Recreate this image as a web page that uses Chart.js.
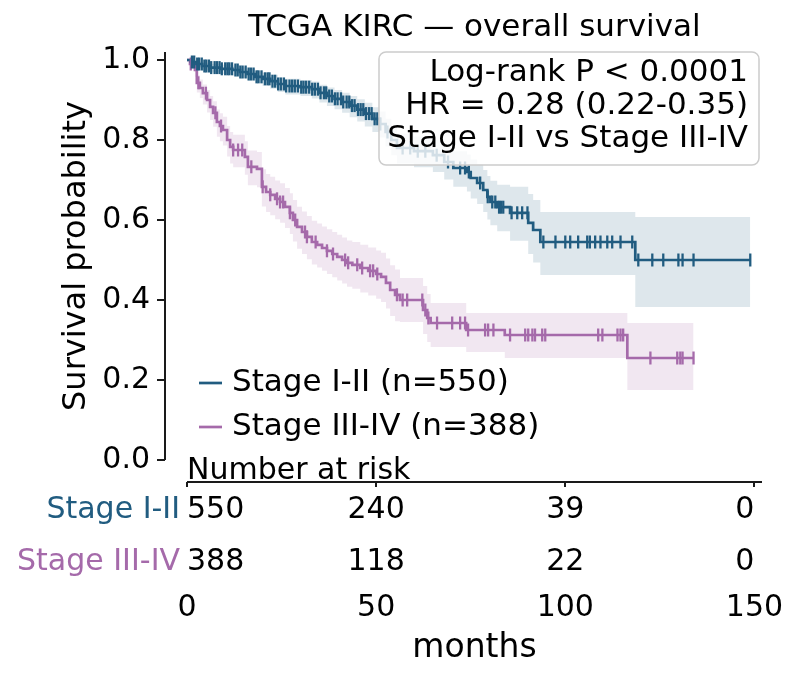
<!DOCTYPE html>
<html><head><meta charset="utf-8">
<script src="https://cdn.jsdelivr.net/npm/chart.js@4.4.1/dist/chart.umd.min.js"></script>
<style>html,body{margin:0;padding:0;background:#fff;}#wrap{width:799px;height:682px;}</style>
</head><body><div id="wrap"><canvas id="c" width="799" height="682"></canvas></div>
<script>
// ---------- data ----------
const titleText = 'TCGA KIRC \u2014 overall survival';
const xTickValues = [0, 50, 100, 150];
const yTickValues = [0, 0.2, 0.4, 0.6, 0.8, 1.0];
const groupNames = ['Stage I-II', 'Stage III-IV'];
const groupN = [550, 388];
const riskTimes = [0, 50, 100, 150];
const riskStage12 = [550, 240, 39, 0];
const riskStage34 = [388, 118, 22, 0];
const statLines = ['Log-rank P < 0.0001', 'HR = 0.28 (0.22-0.35)', 'Stage I-II vs Stage III-IV'];

const stage12Times = [0,1,2.5,4,6,9,12,14,16,18,20,22,24,26,30,33,35,37,39,41,43,45,47,49,51,52.5,54,55.5,60,65,68,70.4,74,75,76.7,78.3,79.4,80.2,82,85.4,90.2,91.5,93.4,118.5];
const stage12Surv  = [1,0.995,0.99,0.985,0.981,0.978,0.975,0.97,0.965,0.958,0.953,0.947,0.94,0.935,0.932,0.927,0.918,0.91,0.903,0.895,0.886,0.876,0.866,0.853,0.84,0.82,0.8,0.78,0.772,0.762,0.745,0.73,0.72,0.705,0.6925,0.675,0.658,0.645,0.632,0.618,0.593,0.575,0.545,0.5];
const stage12Lo    = [1,0.988,0.981,0.974,0.969,0.965,0.961,0.955,0.949,0.941,0.935,0.928,0.92,0.914,0.91,0.904,0.894,0.885,0.877,0.868,0.857,0.846,0.834,0.82,0.806,0.784,0.762,0.741,0.732,0.72,0.701,0.683,0.671,0.654,0.64,0.62,0.601,0.587,0.572,0.548,0.515,0.494,0.4625,0.3825];
const stage12Hi    = [1,0.999,0.996,0.993,0.99,0.988,0.986,0.982,0.978,0.972,0.968,0.963,0.957,0.953,0.95,0.946,0.938,0.931,0.925,0.918,0.91,0.902,0.893,0.882,0.871,0.853,0.835,0.816,0.809,0.8,0.785,0.772,0.764,0.751,0.74,0.725,0.71,0.698,0.688,0.683,0.665,0.65,0.62,0.6075];
const stage12Censor = [1.3,1.9,2.7,3.2,3.9,4.6,5.1,5.8,6.4,7.3,7.9,8.6,9.2,10.1,10.7,11.2,11.9,12.8,13.4,14.1,14.7,15.5,16.3,16.9,17.6,18.4,18.9,19.7,20.6,21.3,21.8,22.6,23.3,24.1,24.8,25.6,26.2,27.1,27.8,28.5,29.3,30.2,30.8,31.5,32.3,33.1,33.8,34.6,35.3,36.2,36.8,37.6,38.3,39.1,39.8,40.7,41.3,42.2,42.9,43.6,44.3,45.2,45.9,46.6,47.3,48.1,48.8,49.6,50.3,51.1,53,57,59,61,63,66,69,72.2,73.5,74.5,77.5,79.5,80.7,81.5,82.5,83,83.6,85.8,87.3,88.6,90,94.2,97.4,100,101.3,103.4,105.8,106.5,107.9,109.3,111.1,112.4,114.6,117.7,119.3,123,125.9,129.9,131,133.9,148.9];

const stage34Times = [0,0.8,2.1,2.6,3.4,4.2,5.3,6.1,6.9,7.9,8.7,9.5,10.6,11.4,12.2,15.3,16.1,18.5,19.8,20.9,22,23.3,24.6,25.9,27.2,28,29.1,30.4,31.7,33,34.4,35.7,37,38.4,39.7,41,42.3,43.7,45.8,47.9,50,51.3,52.6,53.7,55,56.3,62.4,63.5,64.4,73.8,84,116.4];
const stage34Surv  = [1,0.99,0.975,0.943,0.93,0.917,0.9,0.883,0.868,0.845,0.835,0.825,0.8,0.783,0.775,0.758,0.733,0.728,0.683,0.67,0.663,0.653,0.645,0.633,0.618,0.6,0.583,0.57,0.558,0.545,0.538,0.53,0.523,0.515,0.508,0.5,0.493,0.488,0.48,0.473,0.465,0.458,0.443,0.425,0.413,0.4,0.375,0.355,0.3425,0.325,0.3125,0.255];
const stage34Lo    = [1,0.978,0.958,0.919,0.905,0.889,0.869,0.85,0.833,0.808,0.797,0.786,0.759,0.741,0.732,0.713,0.687,0.682,0.634,0.62,0.612,0.602,0.593,0.58,0.565,0.546,0.528,0.515,0.502,0.489,0.481,0.473,0.465,0.457,0.449,0.441,0.433,0.428,0.419,0.411,0.403,0.395,0.379,0.36,0.347,0.345,0.315,0.295,0.2825,0.27,0.255,0.175];
const stage34Hi    = [1,0.998,0.988,0.962,0.951,0.939,0.925,0.91,0.897,0.876,0.867,0.858,0.835,0.82,0.813,0.797,0.774,0.77,0.727,0.715,0.708,0.699,0.692,0.68,0.667,0.65,0.633,0.621,0.61,0.598,0.591,0.584,0.577,0.57,0.563,0.556,0.549,0.545,0.538,0.531,0.524,0.518,0.504,0.487,0.476,0.455,0.435,0.415,0.3925,0.3675,0.3675,0.3425];
const stage34Censor = [1,3,5,7.5,9,12.2,13.5,14.6,17,20,22,23.8,24.6,25.4,27.2,28.6,31.2,31.7,34,37,38.6,41.8,42.6,45,46.3,48.4,49.2,50.3,55.5,57,58.2,62.2,63,63.8,66.1,70.1,72.2,73.5,74.3,78.8,79.6,81,85.4,89.4,90.2,91.3,92,93.9,94.7,108.7,109.8,113.8,114.6,115.3,122.5,129.6,130.4,131,133.9];

// ---------- styles ----------
const FONT = "'DejaVu Sans', sans-serif";
const BLUE = '#215C80', PURPLE = '#A56AAA';
const BLUE_BAND = 'rgba(33,92,128,0.15)', PURPLE_BAND = 'rgba(165,106,170,0.16)';
Chart.defaults.font.family = FONT;

function stepPoints(times, vals, endT) {
  const pts = times.map((t, i) => ({x: t, y: vals[i]}));
  pts.push({x: endT, y: vals[vals.length - 1]});
  return pts;
}
function survAt(times, vals, t) {
  let v = vals[0];
  for (let i = 0; i < times.length; i++) if (times[i] <= t) v = vals[i];
  return v;
}
function censorPoints(times, vals, cens) {
  return cens.map(t => ({x: t, y: survAt(times, vals, t)}));
}
const end12 = Math.max(...stage12Censor);
const end34 = Math.max(...stage34Censor);
const NONE = 'rgba(0,0,0,0)';

const datasets = [
  {data: stepPoints(stage12Times, stage12Hi, end12), stepped: true, borderColor: NONE, borderWidth: 0.01, pointRadius: 0, fill: '+1', backgroundColor: BLUE_BAND, order: 3},
  {data: stepPoints(stage12Times, stage12Lo, end12), stepped: true, borderColor: NONE, borderWidth: 0.01, pointRadius: 0, fill: false, order: 3},
  {data: stepPoints(stage34Times, stage34Hi, end34), stepped: true, borderColor: NONE, borderWidth: 0.01, pointRadius: 0, fill: '+1', backgroundColor: PURPLE_BAND, order: 3},
  {data: stepPoints(stage34Times, stage34Lo, end34), stepped: true, borderColor: NONE, borderWidth: 0.01, pointRadius: 0, fill: false, order: 3},
  {label: groupNames[0] + ' (n=' + groupN[0] + ')', data: stepPoints(stage12Times, stage12Surv, end12), stepped: true, borderColor: BLUE, borderWidth: 2.7, pointRadius: 0, fill: false, order: 2},
  {label: groupNames[1] + ' (n=' + groupN[1] + ')', data: stepPoints(stage34Times, stage34Surv, end34), stepped: true, borderColor: PURPLE, borderWidth: 2.7, pointRadius: 0, fill: false, order: 2},
  {data: censorPoints(stage12Times, stage12Surv, stage12Censor), showLine: false, pointStyle: 'line', rotation: 90, pointRadius: 6.5, borderColor: BLUE, backgroundColor: BLUE, pointBorderWidth: 2.3, borderWidth: 2.3, order: 1},
  {data: censorPoints(stage34Times, stage34Surv, stage34Censor), showLine: false, pointStyle: 'line', rotation: 90, pointRadius: 6.5, borderColor: PURPLE, backgroundColor: PURPLE, pointBorderWidth: 2.3, borderWidth: 2.3, order: 1}
];

function txt(ctx, s, x, y, align, base, color, size) {
  ctx.save();
  ctx.font = (size || 30) + 'px ' + FONT;
  ctx.fillStyle = color || '#000';
  ctx.textAlign = align; ctx.textBaseline = base;
  ctx.fillText(s, x, y);
  ctx.restore();
}

const decor = {
  id: 'decor',
  afterDatasetsDraw(chart) {
    const ctx = chart.ctx, ca = chart.chartArea;
    // stats box
    const right = ca.right - 3, top = ca.top, w = 380, h = 113;
    ctx.save();
    ctx.beginPath();
    ctx.roundRect(right - w, top, w, h, 7);
    ctx.fillStyle = 'rgba(255,255,255,0.8)';
    ctx.fill();
    ctx.lineWidth = 1.5; ctx.strokeStyle = '#cccccc';
    ctx.stroke();
    ctx.restore();
    const cy = [20.5, 54, 87];
    statLines.forEach((s, i) => txt(ctx, s, right - 11, top + cy[i], 'right', 'middle', '#000', 31));
  },
  afterDraw(chart) {
    const ctx = chart.ctx, ca = chart.chartArea, xs = chart.scales.x, ys = chart.scales.y;
    // title
    txt(ctx, titleText, (ca.left + ca.right) / 2, 28, 'center', 'middle', '#000', 31);
    // y spine offset
    const sx = ca.left - 22;
    ctx.save();
    ctx.strokeStyle = '#1a1a1a'; ctx.lineWidth = 2; ctx.lineCap = 'butt';
    ctx.beginPath();
    ctx.moveTo(sx, ys.getPixelForValue(0)); ctx.lineTo(sx, ys.getPixelForValue(ys.max));
    ctx.stroke();
    yTickValues.forEach(v => {
      const py = Math.round(ys.getPixelForValue(v));
      ctx.beginPath(); ctx.moveTo(sx - 8, py); ctx.lineTo(sx, py); ctx.stroke();
    });
    ctx.restore();
    // bottom legend
    const legY = [383, 427];
    const cols = [BLUE, PURPLE];
    [4, 5].forEach((di, i) => {
      ctx.save();
      ctx.strokeStyle = cols[i]; ctx.lineWidth = 2.7;
      ctx.beginPath(); ctx.moveTo(ca.left + 12, legY[i]); ctx.lineTo(ca.left + 35, legY[i]); ctx.stroke();
      ctx.restore();
      txt(ctx, chart.data.datasets[di].label, ca.left + 45, legY[i], 'left', 'middle', '#000', 31);
    });
    // at-risk table
    const lineY = ca.bottom + 22;
    txt(ctx, 'Number at risk', ca.left, lineY - 3, 'left', 'alphabetic', '#000', 30);
    ctx.save();
    ctx.strokeStyle = '#1a1a1a'; ctx.lineWidth = 2;
    ctx.beginPath(); ctx.moveTo(ca.left, lineY); ctx.lineTo(ca.right, lineY); ctx.stroke();
    riskTimes.forEach(t => {
      const px = Math.round(xs.getPixelForValue(t));
      ctx.beginPath(); ctx.moveTo(px, lineY); ctx.lineTo(px, lineY + 5); ctx.stroke();
    });
    ctx.restore();
    const rows = [riskStage12, riskStage34];
    const rowY = [ca.bottom + 58, ca.bottom + 110];
    rows.forEach((row, r) => {
      txt(ctx, groupNames[r], ca.left - 7, rowY[r], 'right', 'alphabetic', cols[r], 30);
      row.forEach((n, j) => {
        const px = xs.getPixelForValue(riskTimes[j]);
        const al = j === 0 ? 'left' : (j === row.length - 1 ? 'right' : 'center');
        txt(ctx, String(n), px, rowY[r], al, 'alphabetic', '#000', 30);
      });
    });
  }
};

new Chart(document.getElementById('c'), {
  type: 'line',
  data: {datasets},
  options: {
    responsive: false,
    animation: false,
    events: [],
    layout: {padding: {top: 52, right: 37, left: 0, bottom: 0}},
    plugins: {legend: {display: false}, title: {display: false}, tooltip: {enabled: false}},
    scales: {
      x: {
        type: 'linear', min: 0, max: 152,
        afterFit(s) { s.height = 222; s.paddingLeft = 0; s.paddingRight = 0; },
        afterBuildTicks(s) { s.ticks = xTickValues.map(v => ({value: v})); },
        grid: {display: false, drawTicks: false}, border: {display: false},
        ticks: {padding: 130, color: '#000', font: {size: 30, family: FONT}, maxRotation: 0, autoSkip: false},
        title: {display: true, text: 'months', color: '#000', font: {size: 33, family: FONT}, padding: {top: 0, bottom: 14}}
      },
      y: {
        type: 'linear', min: 0, max: 1.02,
        afterFit(s) { s.width = 187; s.paddingTop = 0; s.paddingBottom = 0; },
        afterBuildTicks(s) { s.ticks = yTickValues.map(v => ({value: v})); },
        grid: {display: false, drawTicks: false}, border: {display: false},
        ticks: {padding: 37, color: '#000', font: {size: 30, family: FONT}, callback: v => Number(v).toFixed(1)},
        title: {display: true, text: 'Survival probability', color: '#000', font: {size: 32, family: FONT}, padding: {top: 57, bottom: 0}}
      }
    }
  },
  plugins: [decor]
});
</script></body></html>
